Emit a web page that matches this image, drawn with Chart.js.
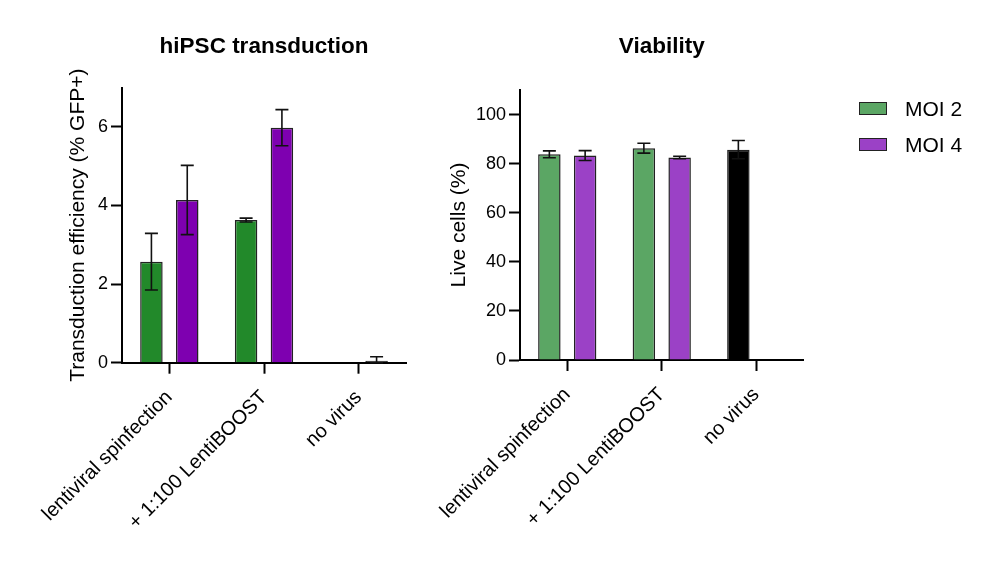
<!DOCTYPE html>
<html>
<head>
<meta charset="utf-8">
<script src="https://cdn.jsdelivr.net/npm/chart.js@4.4.1/dist/chart.umd.min.js"></script>
<style>
  html, body { margin:0; padding:0; background:#fff; }
  body { width:1000px; height:564px; position:relative; overflow:hidden; font-family:"Liberation Sans", Arial, sans-serif; }
  canvas { position:absolute; top:0; }
  #c-gfp { left:0; }
  #c-live { left:400px; }
  #legend { position:absolute; left:859px; top:96px; }
  .leg { display:flex; align-items:center; height:25px; margin-bottom:11px; font-size:21px; color:#000; }
  .leg .box { width:26px; height:11px; border:1.5px solid #222; margin-right:18px; }
</style>
</head>
<body>
<canvas id="c-gfp" width="430" height="564"></canvas>
<canvas id="c-live" width="600" height="564"></canvas>
<div id="legend"></div>
<script>
/* hiPSC transduction + viability, two grouped bar panels with SD error bars */
const FONT = '"Liberation Sans", Arial, sans-serif';
const categories = ["lentiviral spinfection", "+ 1:100 LentiBOOST", "no virus"];
const seriesNames = ["MOI 2", "MOI 4"];

// panel 1: transduction efficiency (% GFP+)
const gfpMoi2    = [2.57, 3.63, null];
const gfpMoi2Err = [0.72, 0.05, null];
const gfpMoi4    = [4.14, 5.98, 0.05];
const gfpMoi4Err = [0.88, 0.46, 0.10];

// panel 2: live cells (%)
const liveMoi2    = [83.8, 86.3, 85.7];
const liveMoi2Err = [1.4, 2.0, 3.7];
const liveMoi4    = [83.3, 82.5, null];
const liveMoi4Err = [2.0, 0.5, null];

const GFP_COLORS  = { moi2:"#22892a", moi4:"#7e00b0", none:"#000000" };
const LIVE_COLORS = { moi2:"#5ba664", moi4:"#9b41c6", none:"#000000" };

// draws mean ± SD whiskers for every bar, using dataset.err
const errorBars = {
  id: "errorBars",
  afterDatasetsDraw(chart){
    const ctx = chart.ctx, y = chart.scales.y;
    ctx.save();
    ctx.strokeStyle = "#111"; ctx.lineWidth = 1.6;
    chart.data.datasets.forEach((ds, i) => {
      const meta = chart.getDatasetMeta(i);
      meta.data.forEach((bar, j) => {
        const v = ds.data[j], e = ds.err[j];
        if (v == null || e == null) return;
        const top = y.getPixelForValue(v + e), bot = y.getPixelForValue(Math.max(0, v - e));
        const cap = 6.5;
        ctx.beginPath();
        ctx.moveTo(bar.x, top); ctx.lineTo(bar.x, bot);
        ctx.moveTo(bar.x - cap, top); ctx.lineTo(bar.x + cap, top);
        ctx.moveTo(bar.x - cap, bot); ctx.lineTo(bar.x + cap, bot);
        ctx.stroke();
      });
    });
    ctx.restore();
  }
};

function barSet(label, data, err, colors){
  return { label, data, err, backgroundColor:colors, borderColor:"#222", borderWidth:1.5,
    categoryPercentage:0.757, barPercentage:0.628 };
}

function panel(id, o){
  return new Chart(document.getElementById(id), {
    type:"bar",
    data:{ labels:categories, datasets:o.datasets },
    options:{
      responsive:false, animation:false,
      layout:{ padding:{ left:0, right:o.padRight, top:0, bottom:0 } },
      plugins:{
        legend:{ display:false }, tooltip:{ enabled:false },
        title:{ display:true, text:o.title, fullSize:false, color:"#000",
          font:{ family:FONT, size:22.5, weight:"bold" }, padding:{ top:33, bottom:o.titleGap } }
      },
      scales:{
        x:{
          offset:true,
          grid:{ offset:false, drawOnChartArea:false, drawTicks:true, tickLength:11, tickWidth:2, tickColor:"#000" },
          border:{ display:true, color:"#000", width:2 },
          ticks:{ color:"#000", font:{ family:FONT, size:20 }, autoSkip:false, maxRotation:45, minRotation:45, padding:12 },
          afterFit(s){ s.height = o.xHeight; }
        },
        y:{
          min:0, max:o.yMax,
          grid:{ drawOnChartArea:false, drawTicks:true, tickLength:11, tickWidth:2, tickColor:"#000" },
          border:{ display:true, color:"#000", width:2 },
          ticks:{ stepSize:o.yStep, color:"#000", font:{ family:FONT, size:18 }, padding:3 },
          title:{ display:true, text:o.yTitle, color:"#000", font:{ family:FONT, size:21 }, padding:{ top:o.yTitlePad } },
          afterBuildTicks(s){ s.ticks = s.ticks.filter(t => t.value % o.yStep === 0); },
          afterFit(s){ s.width = o.yWidth; }
        }
      }
    },
    plugins:[errorBars]
  });
}

panel("c-gfp", {
  title:"hiPSC transduction", titleGap:27.6,
  yTitle:"Transduction efficiency (% GFP+)", yTitlePad:66, yWidth:122, yMax:7, yStep:2,
  xHeight:201.3, padRight:24,
  datasets:[
    barSet(seriesNames[0], gfpMoi2, gfpMoi2Err, [GFP_COLORS.moi2, GFP_COLORS.moi2, GFP_COLORS.none]),
    barSet(seriesNames[1], gfpMoi4, gfpMoi4Err, [GFP_COLORS.moi4, GFP_COLORS.moi4, GFP_COLORS.none])
  ]
});

panel("c-live", {
  title:"Viability", titleGap:30,
  yTitle:"Live cells (%)", yTitlePad:46.4, yWidth:120, yMax:110, yStep:20,
  xHeight:204, padRight:196.5,
  datasets:[
    barSet(seriesNames[0], liveMoi2, liveMoi2Err, [LIVE_COLORS.moi2, LIVE_COLORS.moi2, LIVE_COLORS.none]),
    barSet(seriesNames[1], liveMoi4, liveMoi4Err, [LIVE_COLORS.moi4, LIVE_COLORS.moi4, LIVE_COLORS.none])
  ]
});

// legend uses the viability panel colours
const legend = document.getElementById("legend");
[LIVE_COLORS.moi2, LIVE_COLORS.moi4].forEach((c, i) => {
  const row = document.createElement("div");
  row.className = "leg";
  row.innerHTML = `<span class="box" style="background:${c}"></span><span>${seriesNames[i]}</span>`;
  legend.appendChild(row);
});
</script>
</body>
</html>
